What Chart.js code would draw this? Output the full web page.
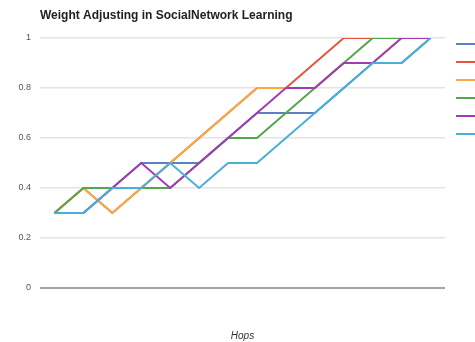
<!DOCTYPE html>
<html>
<head>
<meta charset="utf-8">
<script src="https://cdn.jsdelivr.net/npm/chart.js@4.4.1/dist/chart.umd.min.js"></script>
<style>
  html, body { margin: 0; padding: 0; background: #fff; overflow: hidden; }
  #wrap { width: 475px; height: 342px; overflow: hidden; position: relative; }
  canvas { display: block; }
</style>
</head>
<body>
<div id="wrap"><canvas id="chart" width="600" height="342"></canvas></div>
<script>
// Hop index along the x axis
const hops = ['1', '2', '3', '4', '5', '6', '7', '8', '9', '10', '11', '12', '13', '14'];

// Weight of each node after every hop
const node1 = [0.3, 0.3, 0.4, 0.5, 0.5, 0.5, 0.6, 0.7, 0.7, 0.7, 0.8, 0.9, 0.9, 1.0];
const node2 = [0.3, 0.4, 0.3, 0.4, 0.5, 0.6, 0.7, 0.8, 0.8, 0.9, 1.0, 1.0, 1.0, 1.0];
const node3 = [0.3, 0.4, 0.3, 0.4, 0.5, 0.6, 0.7, 0.8, 0.8, 0.8, 0.9, 0.9, 1.0, 1.0];
const node4 = [0.3, 0.4, 0.4, 0.4, 0.4, 0.5, 0.6, 0.6, 0.7, 0.8, 0.9, 1.0, 1.0, 1.0];
const node5 = [0.3, 0.3, 0.4, 0.5, 0.4, 0.5, 0.6, 0.7, 0.8, 0.8, 0.9, 0.9, 1.0, 1.0];
const node6 = [0.3, 0.3, 0.4, 0.4, 0.5, 0.4, 0.5, 0.5, 0.6, 0.7, 0.8, 0.9, 0.9, 1.0];

const seriesNames = ['Node 1', 'Node 2', 'Node 3', 'Node 4', 'Node 5', 'Node 6'];
const seriesValues = [node1, node2, node3, node4, node5, node6];
const seriesColors = ['#5b80c6', '#e8553f', '#f8aa42', '#52a64c', '#a13db3', '#4aaedb'];

// Weight ticks on the y axis
const yMin = 0, yMax = 1, yStep = 0.2;

// Legend drawn as a column of line samples to the right of the plot
const sideLegend = {
  id: 'sideLegend',
  afterDraw(chart) {
    const { ctx, chartArea } = chart;
    const x0 = chartArea.right + 11;
    const y0 = chartArea.top + 6;
    ctx.save();
    chart.data.datasets.forEach((ds, i) => {
      const y = y0 + i * 18;
      ctx.strokeStyle = ds.borderColor;
      ctx.lineWidth = 2;
      ctx.beginPath();
      ctx.moveTo(x0, y);
      ctx.lineTo(x0 + 22, y);
      ctx.stroke();
      ctx.fillStyle = '#444';
      ctx.font = '10px "Liberation Sans", Arial, sans-serif';
      ctx.textBaseline = 'middle';
      ctx.fillText(ds.label, x0 + 28, y);
    });
    ctx.restore();
  }
};

const datasets = seriesValues.map((vals, i) => ({
  label: seriesNames[i],
  data: vals,
  borderColor: seriesColors[i],
  backgroundColor: seriesColors[i],
  borderWidth: 2,
  pointRadius: 0,
  pointHoverRadius: 0,
  tension: 0,
  fill: false,
  // later series are painted over earlier ones
  order: seriesValues.length - 1 - i
}));

new Chart(document.getElementById('chart'), {
  type: 'line',
  data: { labels: hops, datasets },
  plugins: [sideLegend],
  options: {
    responsive: false,
    animation: false,
    layout: { padding: { left: 0, right: 155, top: 0, bottom: 0 } },
    plugins: {
      legend: { display: false },
      tooltip: { enabled: false },
      title: {
        display: true,
        text: 'Weight Adjusting in SocialNetwork Learning',
        align: 'start',
        fullSize: false,
        color: '#222',
        font: { family: '"Liberation Sans", Arial, sans-serif', size: 12, weight: 'bold' },
        padding: { top: 8, bottom: 15.6 }
      }
    },
    scales: {
      x: {
        type: 'category',
        offset: true,
        grid: { display: false },
        border: { display: false },
        ticks: { display: false },
        title: {
          display: true,
          text: 'Hops',
          color: '#333',
          font: { family: '"Liberation Sans", Arial, sans-serif', size: 10, style: 'italic' },
          padding: 0
        },
        afterFit(scale) { scale.height = 54; }
      },
      y: {
        min: yMin,
        max: yMax,
        border: { display: false },
        grid: {
          drawTicks: false,
          color: (c) => (c.tick && c.tick.value === 0 ? '#a6a6a6' : '#e3e3e3'),
          lineWidth: (c) => (c.tick && c.tick.value === 0 ? 2 : 1.5)
        },
        ticks: {
          stepSize: yStep,
          padding: 9,
          color: '#555',
          font: { family: '"Liberation Sans", Arial, sans-serif', size: 9 },
          callback: (v) => String(Math.round(v * 10) / 10)
        },
        afterFit(scale) { scale.width = 40; }
      }
    }
  }
});
</script>
</body>
</html>
